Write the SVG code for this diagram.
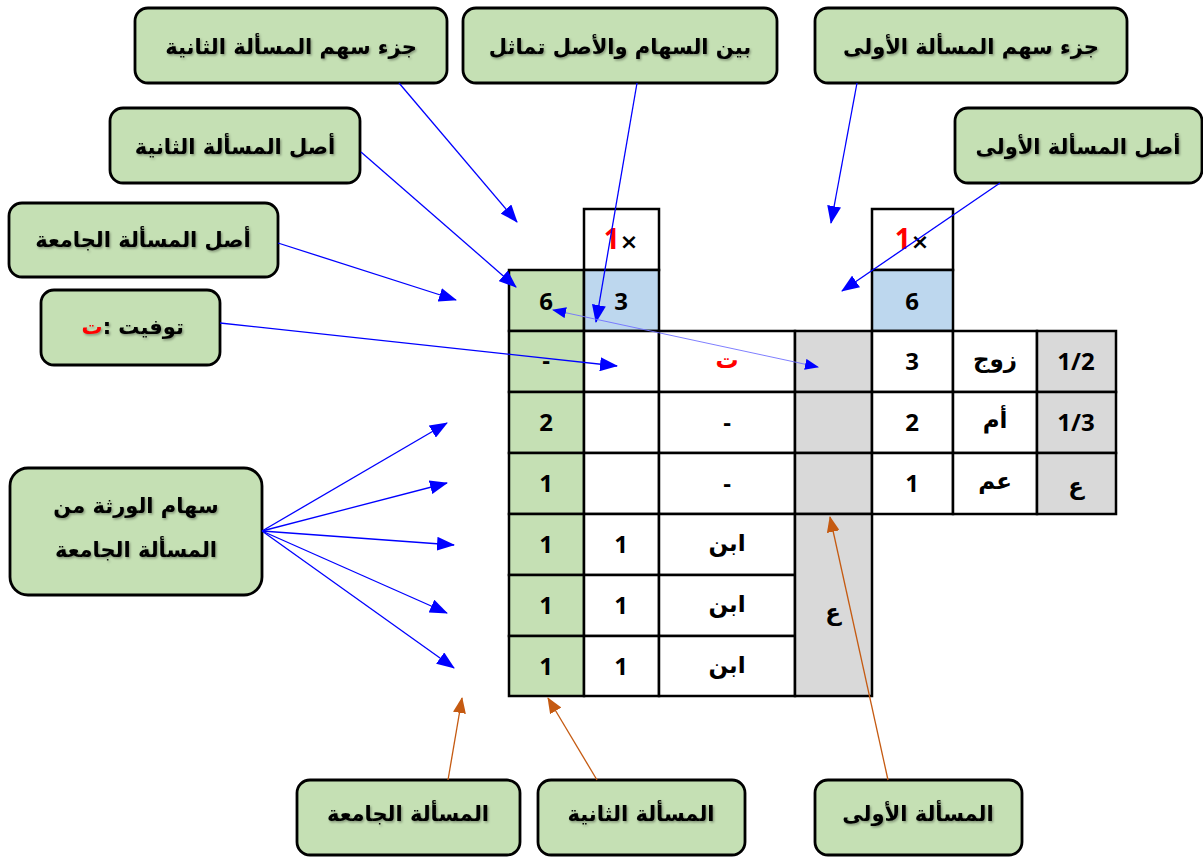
<svg xmlns="http://www.w3.org/2000/svg" width="1203" height="857" viewBox="0 0 1203 857">
  <defs>
    <style>
      .box { fill: #C5E0B4; stroke: #000; stroke-width: 2.8; }
      .lbl { font-family: "DejaVu Sans", "Liberation Sans", sans-serif; font-weight: bold; font-size: 21px; fill: #000; text-anchor: middle; filter: url(#txtShadow); }
      .cell { stroke: #000; stroke-width: 2.5; }
      .w { fill: #FFFFFF; }
      .g { fill: #C5E0B4; }
      .b { fill: #BDD7EE; }
      .s { fill: #D9D9D9; }
      .num { font-family: "Open Sans", "DejaVu Sans", sans-serif; font-weight: bold; font-size: 24px; fill: #000; text-anchor: middle; }
      .ar { font-family: "DejaVu Sans", "Open Sans", sans-serif; font-weight: bold; font-size: 23px; fill: #000; text-anchor: middle; }
      .blue { stroke: #0000FF; stroke-width: 1.3; fill: none; }
      .thin { stroke: #7070FF; stroke-width: 0.9; fill: none; }
      .orange { stroke: #C55A11; stroke-width: 1.3; fill: none; }
    </style>
    <filter id="txtShadow" x="-10%" y="-30%" width="120%" height="160%">
      <feDropShadow dx="1.2" dy="1.5" stdDeviation="1" flood-color="#000" flood-opacity="0.35"/>
    </filter>
    <marker id="ahBlue" markerUnits="userSpaceOnUse" markerWidth="18" markerHeight="14" refX="17" refY="7" orient="auto">
      <path d="M0,0 L18,7 L0,14 z" fill="#0000FF"/>
    </marker>
    <marker id="ahThin" markerUnits="userSpaceOnUse" markerWidth="14" markerHeight="11" refX="13" refY="5.5" orient="auto-start-reverse">
      <path d="M0,0 L14,5.5 L0,11 z" fill="#0000FF"/>
    </marker>
    <marker id="ahOrange" markerUnits="userSpaceOnUse" markerWidth="16" markerHeight="13" refX="15" refY="6.5" orient="auto">
      <path d="M0,0 L16,6.5 L0,13 z" fill="#C55A11"/>
    </marker>
  </defs>

  <rect width="1203" height="857" fill="#FFFFFF"/>

  <!-- table of the two problems and the combined one -->
  <g id="table">
    <!-- multiplier row -->
    <rect class="cell w" x="584" y="209" width="75" height="61"/>
    <rect class="cell w" x="872" y="209" width="81" height="61"/>
    <text class="num" x="621" y="249" font-weight="normal"><tspan fill="#FF0000" font-size="28">1</tspan><tspan font-family="DejaVu Sans, sans-serif" font-size="22">×</tspan></text>
    <text class="num" x="912" y="249" font-weight="normal"><tspan fill="#FF0000" font-size="28">1</tspan><tspan font-family="DejaVu Sans, sans-serif" font-size="22">×</tspan></text>

    <!-- base row -->
    <rect class="cell g" x="509" y="270" width="75" height="61"/>
    <rect class="cell b" x="584" y="270" width="75" height="61"/>
    <rect class="cell b" x="872" y="270" width="81" height="61"/>
    <text class="num" x="546" y="310" font-size="27">6</text>
    <text class="num" x="621" y="310" font-size="27">3</text>
    <text class="num" x="912" y="310">6</text>

    <!-- heir rows -->
    <g id="row-husband">
      <rect class="cell g" x="509" y="331" width="75" height="61"/>
      <rect class="cell w" x="584" y="331" width="75" height="61"/>
      <rect class="cell w" x="659" y="331" width="136" height="61"/>
      <rect class="cell s" x="795" y="331" width="77" height="61"/>
      <rect class="cell w" x="872" y="331" width="81" height="61"/>
      <rect class="cell w" x="953" y="331" width="84" height="61"/>
      <rect class="cell s" x="1037" y="331" width="79" height="61"/>
      <text class="num" x="546" y="369">-</text>
      <text class="ar" x="727" y="368" style="fill:#FF0000" font-size="27">ت</text>
      <text class="num" x="912" y="370">3</text>
      <text class="ar" x="995" y="367">زوج</text>
      <text class="num" x="1076" y="370">1/2</text>
    </g>
    <g id="row-mother">
      <rect class="cell g" x="509" y="392" width="75" height="61"/>
      <rect class="cell w" x="584" y="392" width="75" height="61"/>
      <rect class="cell w" x="659" y="392" width="136" height="61"/>
      <rect class="cell s" x="795" y="392" width="77" height="61"/>
      <rect class="cell w" x="872" y="392" width="81" height="61"/>
      <rect class="cell w" x="953" y="392" width="84" height="61"/>
      <rect class="cell s" x="1037" y="392" width="79" height="61"/>
      <text class="num" x="546" y="431">2</text>
      <text class="num" x="727" y="431">-</text>
      <text class="num" x="912" y="431">2</text>
      <text class="ar" x="995" y="428">أم</text>
      <text class="num" x="1076" y="431">1/3</text>
    </g>
    <g id="row-uncle">
      <rect class="cell g" x="509" y="453" width="75" height="61"/>
      <rect class="cell w" x="584" y="453" width="75" height="61"/>
      <rect class="cell w" x="659" y="453" width="136" height="61"/>
      <rect class="cell s" x="795" y="453" width="77" height="61"/>
      <rect class="cell w" x="872" y="453" width="81" height="61"/>
      <rect class="cell w" x="953" y="453" width="84" height="61"/>
      <rect class="cell s" x="1037" y="453" width="79" height="61"/>
      <text class="num" x="546" y="492">1</text>
      <text class="num" x="727" y="492">-</text>
      <text class="num" x="912" y="492">1</text>
      <text class="ar" x="995" y="489">عم</text>
      <text class="ar" x="1076" y="494">ع</text>
    </g>
    <g id="rows-sons">
      <rect class="cell g" x="509" y="514" width="75" height="61"/>
      <rect class="cell w" x="584" y="514" width="75" height="61"/>
      <rect class="cell w" x="659" y="514" width="136" height="61"/>
      <rect class="cell g" x="509" y="575" width="75" height="61"/>
      <rect class="cell w" x="584" y="575" width="75" height="61"/>
      <rect class="cell w" x="659" y="575" width="136" height="61"/>
      <rect class="cell g" x="509" y="636" width="75" height="60"/>
      <rect class="cell w" x="584" y="636" width="75" height="60"/>
      <rect class="cell w" x="659" y="636" width="136" height="60"/>
      <rect class="cell s" x="795" y="514" width="77" height="182"/>
      <text class="num" x="546" y="553">1</text>
      <text class="num" x="621" y="553">1</text>
      <text class="ar" x="727" y="551">ابن</text>
      <text class="num" x="546" y="614">1</text>
      <text class="num" x="621" y="614">1</text>
      <text class="ar" x="727" y="612">ابن</text>
      <text class="num" x="546" y="675">1</text>
      <text class="num" x="621" y="675">1</text>
      <text class="ar" x="727" y="673">ابن</text>
      <text class="ar" x="833" y="620">ع</text>
    </g>
  </g>

  <!-- callout labels -->
  <g id="lbl-part2">
    <rect class="box" x="135" y="8" width="312" height="75" rx="13"/>
    <text class="lbl" x="291" y="54">جزء سهم المسألة الثانية</text>
  </g>
  <g id="lbl-equal">
    <rect class="box" x="463" y="8" width="314" height="75" rx="13"/>
    <text class="lbl" x="620" y="54">بين السهام والأصل تماثل</text>
  </g>
  <g id="lbl-part1">
    <rect class="box" x="815" y="8" width="312" height="75" rx="13"/>
    <text class="lbl" x="971" y="54">جزء سهم المسألة الأولى</text>
  </g>
  <g id="lbl-base1">
    <rect class="box" x="955" y="108" width="247" height="75" rx="13"/>
    <text class="lbl" x="1078" y="154">أصل المسألة الأولى</text>
  </g>
  <g id="lbl-base2">
    <rect class="box" x="110" y="108" width="250" height="75" rx="13"/>
    <text class="lbl" x="235" y="154">أصل المسألة الثانية</text>
  </g>
  <g id="lbl-baseAll">
    <rect class="box" x="9" y="203" width="269" height="74" rx="13"/>
    <text class="lbl" x="143" y="247">أصل المسألة الجامعة</text>
  </g>
  <g id="lbl-dead">
    <rect class="box" x="41" y="290" width="179" height="75" rx="13"/>
    <text class="lbl" x="92" y="334" style="fill:#FF0000">ت</text>
    <text class="lbl" x="107" y="334">:</text>
    <text class="lbl" x="151" y="334">توفيت</text>
  </g>
  <g id="lbl-shares">
    <rect class="box" x="10" y="468" width="252" height="127" rx="18"/>
    <text class="lbl" x="136" y="513">سهام الورثة من</text>
    <text class="lbl" x="136" y="557">المسألة الجامعة</text>
  </g>
  <g id="lbl-all">
    <rect class="box" x="297" y="780" width="223" height="75" rx="13"/>
    <text class="lbl" x="408" y="821">المسألة الجامعة</text>
  </g>
  <g id="lbl-second">
    <rect class="box" x="538" y="780" width="207" height="75" rx="13"/>
    <text class="lbl" x="641" y="821">المسألة الثانية</text>
  </g>
  <g id="lbl-first">
    <rect class="box" x="815" y="780" width="207" height="75" rx="13"/>
    <text class="lbl" x="918" y="821">المسألة الأولى</text>
  </g>

  <!-- connectors -->
  <g id="connectors">
    <line class="blue" x1="399" y1="83" x2="517" y2="222" marker-end="url(#ahBlue)"/>
    <line class="blue" x1="637" y1="83" x2="596" y2="322" marker-end="url(#ahBlue)"/>
    <line class="blue" x1="857" y1="83" x2="831" y2="223" marker-end="url(#ahBlue)"/>
    <line class="blue" x1="1000" y1="183" x2="842" y2="291" marker-end="url(#ahBlue)"/>
    <line class="blue" x1="361" y1="152" x2="516" y2="287" marker-end="url(#ahBlue)"/>
    <line class="blue" x1="278" y1="243" x2="456" y2="300" marker-end="url(#ahBlue)"/>
    <line class="blue" x1="220" y1="323" x2="617" y2="366" marker-end="url(#ahBlue)"/>
    <line class="thin" x1="553" y1="310" x2="818" y2="367" marker-start="url(#ahThin)" marker-end="url(#ahThin)"/>
    <line class="blue" x1="262" y1="531" x2="447" y2="423" marker-end="url(#ahBlue)"/>
    <line class="blue" x1="262" y1="531" x2="447" y2="483" marker-end="url(#ahBlue)"/>
    <line class="blue" x1="262" y1="531" x2="454" y2="545" marker-end="url(#ahBlue)"/>
    <line class="blue" x1="262" y1="531" x2="447" y2="613" marker-end="url(#ahBlue)"/>
    <line class="blue" x1="262" y1="531" x2="454" y2="668" marker-end="url(#ahBlue)"/>
    <line class="orange" x1="448" y1="780" x2="462" y2="698" marker-end="url(#ahOrange)"/>
    <line class="orange" x1="597" y1="780" x2="548" y2="698" marker-end="url(#ahOrange)"/>
    <line class="orange" x1="888" y1="780" x2="830" y2="517" marker-end="url(#ahOrange)"/>
  </g>
</svg>
